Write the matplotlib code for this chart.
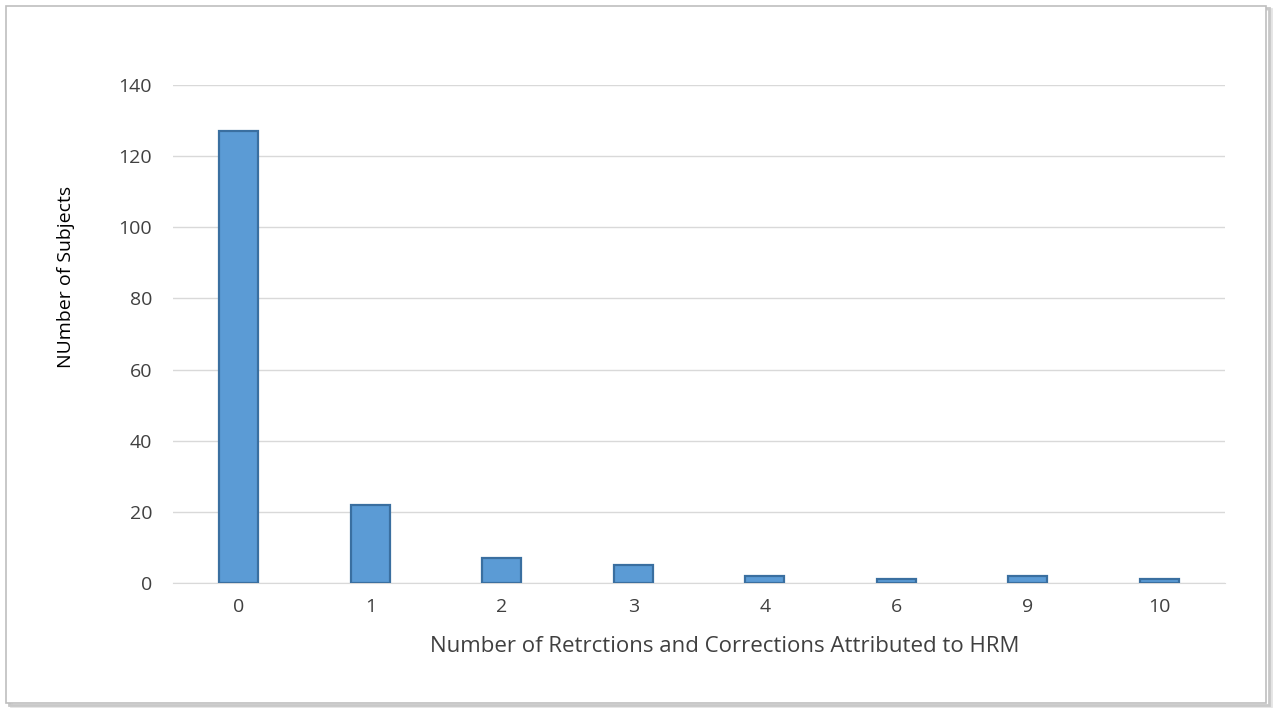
import numpy as np
import matplotlib.pyplot as plt
from matplotlib.patches import Rectangle

# retraction/correction counts and how many subjects had each
categories = ['0', '1', '2', '3', '4', '6', '9', '10']
subjects = [127, 22, 7, 5, 2, 1, 2, 1]

plt.rcParams['font.family'] = ['Open Sans', 'DejaVu Sans']

fig = plt.figure(figsize=(12.75, 7.11), dpi=100)
ax = fig.add_axes([0.1357, 0.18, 0.8251, 0.7005])
ax.set_zorder(5)

# chart frame with a soft drop shadow
for off, col in [(0.004, '#e4e4e4'), (0.002, '#c8c8c8')]:
    fig.patches.append(Rectangle((0.005 + off, 0.011 - off), 0.988, 0.98,
                                 transform=fig.transFigure, fill=False,
                                 edgecolor=col, linewidth=2, zorder=-2))
fig.patches.append(Rectangle((0.005, 0.011), 0.988, 0.98, transform=fig.transFigure,
                             facecolor='white', edgecolor='#bfbfbf', linewidth=1.2, zorder=-1))

x = np.arange(len(categories))
ax.bar(x, subjects, width=0.3, color='#5b9bd5', edgecolor='#3a6fa0', linewidth=1.6, zorder=3)

ax.set_xlim(-0.5, len(categories) - 0.5)
ax.set_ylim(0, 140)
ax.set_yticks(np.arange(0, 141, 20))
ax.set_xticks(x)
ax.set_xticklabels(categories)
ax.yaxis.grid(True, color='#d9d9d9', linewidth=1, zorder=0)
ax.set_axisbelow(True)

for side in ['top', 'right', 'left']:
    ax.spines[side].set_visible(False)
ax.spines['bottom'].set_color('#d9d9d9')
ax.tick_params(axis='both', length=0, labelsize=14, colors='#404040')
ax.tick_params(axis='y', pad=15)
ax.tick_params(axis='x', pad=11)
ax.patch.set_alpha(0)

ax.set_xlabel('Number of Retrctions and Corrections Attributed to HRM', fontsize=16,
              color='#404040')
ax.xaxis.set_label_coords(0.524, -0.107)
ax.set_ylabel('NUmber of Subjects', fontsize=14, color='black')
ax.yaxis.set_label_coords(-0.093, 0.614)

fig.savefig('out.png', dpi=100)
